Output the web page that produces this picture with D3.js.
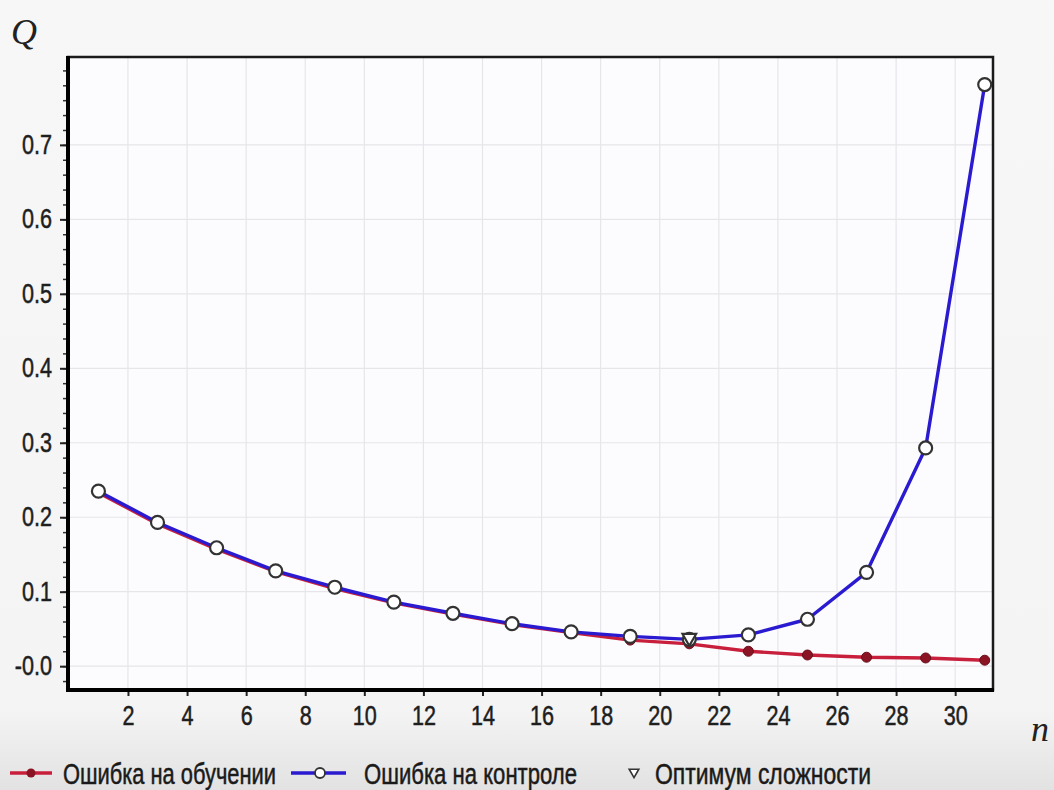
<!DOCTYPE html>
<html>
<head>
<meta charset="utf-8">
<script src="https://cdn.jsdelivr.net/npm/d3@7/dist/d3.min.js"></script>
<style>
  html, body { margin: 0; padding: 0; background: #f6f6f6; }
  svg { display: block; }
  .tick-label { font-family: "Liberation Sans", Arial, sans-serif; fill: #1e1e1e; stroke: #1e1e1e; stroke-width: 0.5px; }
</style>
</head>
<body>
<svg id="chart" width="1054" height="790"></svg>
<script>
// ---- data ----
const nValues = [1, 3, 5, 7, 9, 11, 13, 15, 17, 19, 21, 23, 25, 27, 29, 31];
const trainError = [0.233, 0.191, 0.157, 0.127, 0.104, 0.085, 0.070, 0.056, 0.045, 0.035, 0.030, 0.020, 0.015, 0.012, 0.011, 0.008];
const controlError = [0.235, 0.193, 0.159, 0.128, 0.106, 0.086, 0.071, 0.057, 0.046, 0.040, 0.036, 0.042, 0.063, 0.126, 0.293, 0.781];
const optimumN = [21];
const optimumQ = [0.038];
const xTicks = [2, 4, 6, 8, 10, 12, 14, 16, 18, 20, 22, 24, 26, 28, 30];
const yTicks = [0.0, 0.1, 0.2, 0.3, 0.4, 0.5, 0.6, 0.7];
const yTickLabels = ["-0.0", "0.1", "0.2", "0.3", "0.4", "0.5", "0.6", "0.7"];
const legendLabels = ["Ошибка на обучении", "Ошибка на контроле", "Оптимум сложности"];

// ---- layout ----
const svg = d3.select("#chart");
const W = 1054, H = 790;
const plot = { left: 68, top: 57, right: 993, bottom: 690 };
const squeeze = 0.8;

const defs = svg.append("defs");
const bg = defs.append("linearGradient").attr("id", "bgGrad").attr("x1", 0).attr("y1", 0).attr("x2", 0).attr("y2", 1);
bg.append("stop").attr("offset", "0%").attr("stop-color", "#f7f7f7");
bg.append("stop").attr("offset", "90%").attr("stop-color", "#f4f4f4");
bg.append("stop").attr("offset", "100%").attr("stop-color", "#e2e2e2");
svg.append("rect").attr("width", W).attr("height", H).attr("fill", "url(#bgGrad)");

const x = d3.scaleLinear().domain([-0.03, 31.28]).range([plot.left, plot.right]);
const y = d3.scaleLinear().domain([-0.032, 0.818]).range([plot.bottom, plot.top]);

// plot background
svg.append("rect")
  .attr("x", plot.left).attr("y", plot.top)
  .attr("width", plot.right - plot.left).attr("height", plot.bottom - plot.top)
  .attr("fill", "#fcfcfe");

// grid
const grid = svg.append("g");
grid.selectAll("line.vx").data(xTicks).join("line")
  .attr("x1", d => x(d)).attr("x2", d => x(d))
  .attr("y1", plot.top).attr("y2", plot.bottom)
  .attr("stroke", "#e6e6ea").attr("stroke-width", 1.2);
grid.selectAll("line.hy").data(yTicks).join("line")
  .attr("x1", plot.left).attr("x2", plot.right)
  .attr("y1", d => y(d)).attr("y2", d => y(d))
  .attr("stroke", "#e6e6ea").attr("stroke-width", 1.2);

// y axis with minor ticks
const minorY = d3.range(-0.02, 0.82, 0.02).map(v => Math.round(v * 100) / 100);
const yMinor = d3.axisLeft(y).tickValues(minorY).tickSize(5).tickFormat("");
const gyMinor = svg.append("g").attr("transform", `translate(${plot.left},0)`).call(yMinor);
gyMinor.select(".domain").remove();
gyMinor.selectAll("line").attr("stroke", "#333").attr("stroke-width", 1.5);

const yAxis = d3.axisLeft(y).tickValues(yTicks).tickSize(8).tickPadding(8)
  .tickFormat((d, i) => yTickLabels[i]);
const gy = svg.append("g").attr("transform", `translate(${plot.left},0)`).call(yAxis);
gy.select(".domain").remove();
gy.selectAll("line").attr("stroke", "#222").attr("stroke-width", 2);
gy.selectAll("text").attr("class", "tick-label").attr("font-size", 27)
  .attr("x", -16 / squeeze).attr("transform", `scale(${squeeze},1)`);

// x axis
const xAxis = d3.axisBottom(x).tickValues(xTicks).tickSize(6).tickPadding(10);
const gx = svg.append("g").attr("transform", `translate(0,${plot.bottom})`).call(xAxis);
gx.select(".domain").remove();
gx.selectAll("line").attr("stroke", "#222").attr("stroke-width", 2);
gx.selectAll("text").attr("class", "tick-label").attr("font-size", 27)
  .attr("transform", `scale(${squeeze},1)`);

// frame
svg.append("rect")
  .attr("x", plot.left).attr("y", plot.top)
  .attr("width", plot.right - plot.left).attr("height", plot.bottom - plot.top)
  .attr("fill", "none").attr("stroke", "#1a1a1a").attr("stroke-width", 2.5);
svg.append("line").attr("x1", plot.left).attr("x2", plot.left).attr("y1", plot.top - 1).attr("y2", plot.bottom + 2)
  .attr("stroke", "#000").attr("stroke-width", 4);
svg.append("line").attr("x1", plot.left - 2).attr("x2", plot.right + 1).attr("y1", plot.bottom).attr("y2", plot.bottom)
  .attr("stroke", "#000").attr("stroke-width", 4);

// axis titles
svg.append("text").attr("x", 11).attr("y", 44)
  .attr("font-family", "'Liberation Serif', 'DejaVu Serif', serif").attr("font-style", "italic")
  .attr("font-size", 36).attr("fill", "#222").text("Q");
svg.append("text").attr("x", 1031).attr("y", 741)
  .attr("font-family", "'Liberation Serif', 'DejaVu Serif', serif").attr("font-style", "italic")
  .attr("font-size", 36).attr("fill", "#222").text("n");

// series
const trainData = nValues.map((n, i) => ({ n, q: trainError[i] }));
const controlData = nValues.map((n, i) => ({ n, q: controlError[i] }));
const line = d3.line().x(d => x(d.n)).y(d => y(d.q));

const red = "#c8203c", redDot = "#8a1424", blue = "#2a1ad0";

svg.append("path").datum(trainData).attr("d", line)
  .attr("fill", "none").attr("stroke", red).attr("stroke-width", 3.4).attr("stroke-linejoin", "round");
svg.append("g").selectAll("circle").data(trainData).join("circle")
  .attr("cx", d => x(d.n)).attr("cy", d => y(d.q)).attr("r", 5)
  .attr("fill", redDot).attr("stroke", "#6a0e1a").attr("stroke-width", 1);

svg.append("path").datum(controlData).attr("d", line)
  .attr("fill", "none").attr("stroke", blue).attr("stroke-width", 3.4).attr("stroke-linejoin", "round");
svg.append("g").selectAll("circle").data(controlData).join("circle")
  .attr("cx", d => x(d.n)).attr("cy", d => y(d.q)).attr("r", 6.5)
  .attr("fill", "#fff").attr("stroke", "#333").attr("stroke-width", 2.2);

// optimum marker
const tri = d3.symbol().type(d3.symbolTriangle).size(80);
svg.append("g").selectAll("path").data(optimumN.map((n, i) => ({ n, q: optimumQ[i] }))).join("path")
  .attr("d", tri)
  .attr("transform", d => `translate(${x(d.n)},${y(d.q)}) rotate(180)`)
  .attr("fill", "#fff").attr("stroke", "#333").attr("stroke-width", 2.2);

// legend
const ly = 773;
const leg = svg.append("g");
// item 1
leg.append("line").attr("x1", 10).attr("x2", 52).attr("y1", ly).attr("y2", ly).attr("stroke", red).attr("stroke-width", 3.5);
leg.append("circle").attr("cx", 31).attr("cy", ly).attr("r", 4.5).attr("fill", redDot);
// item 2
leg.append("line").attr("x1", 291).attr("x2", 346).attr("y1", ly).attr("y2", ly).attr("stroke", blue).attr("stroke-width", 3.5);
leg.append("circle").attr("cx", 320).attr("cy", ly).attr("r", 5).attr("fill", "#fff").attr("stroke", "#333").attr("stroke-width", 1.8);
// item 3
leg.append("path").attr("d", d3.symbol().type(d3.symbolTriangle).size(40))
  .attr("transform", `translate(634,${ly - 1}) rotate(180)`)
  .attr("fill", "#fff").attr("stroke", "#333").attr("stroke-width", 1.6);

const legendX = [63, 364, 655];
const legendW = [213, 213, 216];
leg.selectAll("text.lg").data(legendLabels).join("text")
  .attr("x", (d, i) => legendX[i]).attr("y", ly + 11)
  .attr("font-family", "'Liberation Sans', Arial, sans-serif")
  .attr("font-size", 29).attr("fill", "#1a1a1a")
  .attr("stroke", "#1a1a1a").attr("stroke-width", 0.5)
  .attr("textLength", (d, i) => legendW[i]).attr("lengthAdjust", "spacingAndGlyphs")
  .text(d => d);
</script>
</body>
</html>
